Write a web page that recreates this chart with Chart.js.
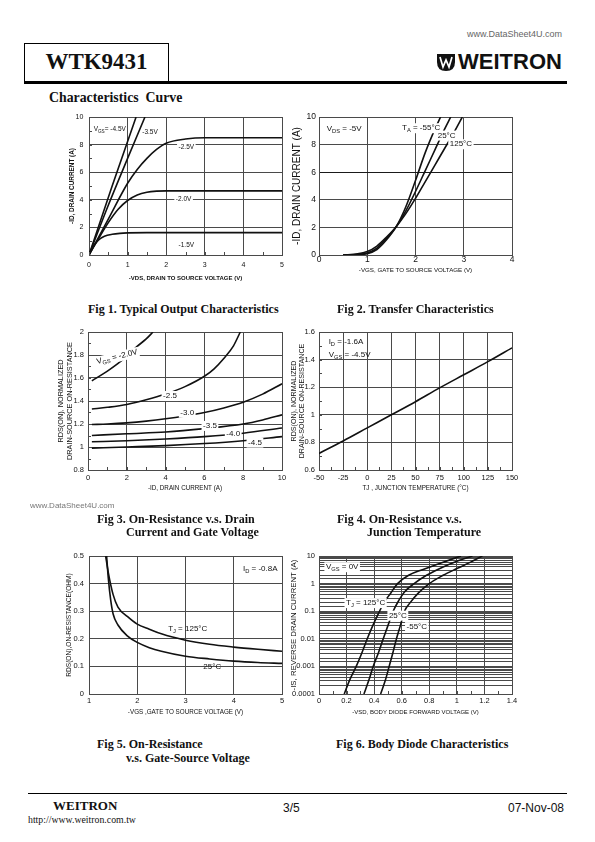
<!DOCTYPE html>
<html>
<head>
<meta charset="utf-8">
<script src="https://cdn.jsdelivr.net/npm/chart.js@4.4.0/dist/chart.umd.min.js"></script>
<style>
  body { margin: 0; background: #fff; }
  #page { position: relative; width: 595px; height: 842px; overflow: hidden; background: #fff; color: #111; }
  .t { position: absolute; white-space: pre; }
  .serif { font-family: 'Liberation Serif', 'Times New Roman', serif; }
  .sans { font-family: 'Liberation Sans', Arial, sans-serif; }
  .cap { font-family: 'Liberation Serif', 'Times New Roman', serif; font-weight: bold; font-size: 12px; line-height: 14px; }
  canvas { position: absolute; }
</style>
</head>
<body>
<div id="page">
  <!-- header -->
  <div class="t sans" style="left:467px;top:29px;font-size:9px;line-height:10px;color:#666;">www.DataSheet4U.com</div>
  <div style="position:absolute;left:24px;top:43px;width:143px;height:38px;border:1px solid #000;border-bottom:none;"></div>
  <div style="position:absolute;left:24px;top:81px;width:543px;height:3px;background:#000;"></div>
  <div class="t serif" style="left:24px;width:145px;top:50px;text-align:center;font-weight:bold;font-size:23px;line-height:23px;">WTK9431</div>
  <svg style="position:absolute;left:436px;top:53px;" width="20" height="19" viewBox="0 0 20 19">
    <path d="M1 1 H19 V9 Q19 18 10 18 Q1 18 1 9 Z" fill="#111"/>
    <path d="M4 4 L7 14 L10 7 L13 14 L16 4" stroke="#fff" stroke-width="1.7" fill="none"/>
  </svg>
  <div class="t sans" style="left:458px;top:50px;font-weight:bold;font-size:22px;line-height:24px;">WEITRON</div>
  <div class="t serif" style="left:49px;top:90px;font-weight:bold;font-size:13.8px;line-height:16px;">Characteristics  Curve</div>

  <canvas id="fig1" width="253" height="180" style="left:39px;top:107px;"></canvas>
  <canvas id="fig2" width="253" height="180" style="left:269px;top:107px;"></canvas>
  <canvas id="fig3" width="254" height="180" style="left:38px;top:322px;"></canvas>
  <canvas id="fig4" width="253" height="180" style="left:269px;top:322px;"></canvas>
  <canvas id="fig5" width="253" height="180" style="left:39px;top:546px;"></canvas>
  <canvas id="fig6" width="253" height="180" style="left:269px;top:546px;"></canvas>

  <div class="t cap" style="left:88px;top:302px;">Fig 1. Typical Output Characteristics</div>
  <div class="t cap" style="left:337px;top:302px;">Fig 2. Transfer Characteristics</div>
  <div class="t sans" style="left:30px;top:501px;font-size:8px;line-height:10px;color:#777;">www.DataSheet4U.com</div>
  <div class="t cap" style="left:97px;top:512px;">Fig 3. On-Resistance v.s. Drain</div>
  <div class="t cap" style="left:126px;top:525px;">Current and Gate Voltage</div>
  <div class="t cap" style="left:337px;top:512px;">Fig 4. On-Resistance v.s.</div>
  <div class="t cap" style="left:367px;top:525px;">Junction Temperature</div>
  <div class="t cap" style="left:97px;top:737px;">Fig 5. On-Resistance</div>
  <div class="t cap" style="left:126px;top:751px;">v.s. Gate-Source Voltage</div>
  <div class="t cap" style="left:336px;top:737px;">Fig 6. Body Diode Characteristics</div>

  <!-- footer -->
  <div style="position:absolute;left:28px;top:793px;width:539px;height:1px;background:#000;"></div>
  <div class="t serif" style="left:53px;top:799px;font-weight:bold;font-size:13px;line-height:14px;">WEITRON</div>
  <div class="t serif" style="left:28px;top:814px;font-size:9.8px;line-height:12px;">http://www.weitron.com.tw</div>
  <div class="t sans" style="left:283px;top:801px;font-size:12px;line-height:14px;">3/5</div>
  <div class="t sans" style="left:508px;top:801px;font-size:12px;line-height:14px;">07-Nov-08</div>
</div>

<script>
const GRID = '#4a4a4a';
const INK = '#111';
const SANS = "'Liberation Sans', Arial, sans-serif";

// Fig 1: -VDS (V) vs -ID (A), one curve per VGS
const out15 = [[0,0],[0.1,0.55],[0.2,0.95],[0.3,1.2],[0.4,1.36],[0.6,1.5],[0.8,1.57],[1,1.6],[1.5,1.62],[2,1.62],[3,1.62],[5,1.62]];
const out20 = [[0,0],[0.25,1.2],[0.5,2.35],[0.75,3.3],[1,3.95],[1.25,4.35],[1.5,4.55],[1.75,4.63],[2,4.65],[3,4.65],[5,4.65]];
const out25 = [[0,0],[0.5,2.6],[1,5.2],[1.25,6.2],[1.5,7.0],[1.75,7.65],[2,8.1],[2.5,8.4],[3,8.5],[5,8.5]];
const out35 = [[0,0],[0.5,3.6],[1,7.0],[1.45,10]];
const out45 = [[0,0],[0.6,5.0],[1.22,10]];
const fig1Notes = [
  {text: 'V_{GS}= -4.5V', x: 0.12, y: 9.1},
  {text: '-3.5V', x: 1.38, y: 8.9},
  {text: '-2.5V', x: 2.32, y: 7.8, bg: true},
  {text: '-2.0V', x: 2.25, y: 4.05, bg: true},
  {text: '-1.5V', x: 2.32, y: 0.7}
];

// Fig 2: -VGS (V) vs -ID (A) at three temperatures
const tr_m55 = [[0.5,0],[0.8,0.02],[1.0,0.1],[1.2,0.4],[1.4,1.1],[1.6,2.05],[1.8,3.5],[2.0,5.4],[2.2,7.4],[2.4,9.1],[2.52,10]];
const tr_25 = [[0.5,0],[0.8,0.04],[1.0,0.15],[1.2,0.5],[1.4,1.2],[1.6,2.05],[1.8,3.2],[2.0,4.6],[2.2,6.1],[2.4,7.6],[2.6,9.1],[2.73,10]];
const tr_125 = [[0.5,0],[0.8,0.08],[1.0,0.25],[1.2,0.65],[1.4,1.3],[1.6,2.05],[1.8,3.0],[2.0,4.1],[2.2,5.3],[2.4,6.5],[2.6,7.7],[2.8,8.9],[2.97,10]];
const fig2Notes = [
  {text: 'V_{DS} = -5V', x: 0.16, y: 9.15},
  {text: 'T_{A} = -55°C', x: 1.72, y: 9.2, bg: true},
  {text: '25°C', x: 2.46, y: 8.67, bg: true},
  {text: '125°C', x: 2.71, y: 8.04, bg: true}
];

// Fig 3: -ID (A) vs normalized RDS(on), one curve per VGS
const ron20 = [[0.2,1.575],[1,1.66],[1.5,1.72],[2,1.79],[2.5,1.87],[3,1.94],[3.35,2.0]];
const ron25 = [[0.2,1.33],[1,1.345],[2,1.37],[3,1.41],[4,1.46],[5,1.525],[6,1.615],[6.5,1.68],[7,1.77],[7.5,1.88],[7.85,2.0]];
const ron30 = [[0.2,1.195],[1,1.2],[2,1.21],[3,1.225],[4,1.245],[5,1.27],[6,1.3],[7,1.34],[8,1.39],[9,1.46],[10,1.55]];
const ron35 = [[0.2,1.1],[2,1.115],[4,1.13],[6,1.16],[8,1.2],[9,1.235],[10,1.28]];
const ron40 = [[0.2,1.045],[2,1.055],[4,1.07],[6,1.09],[8,1.12],[10,1.165]];
const ron45 = [[0.2,0.99],[2,1.0],[4,1.012],[6,1.03],[8,1.055],[10,1.09]];
const fig3Notes = [
  {text: 'V_{GS} = -2.0V', x: 0.45, y: 1.74, angle: -14, bg: true},
  {text: '-2.5', x: 3.87, y: 1.445, bg: true},
  {text: '-3.0', x: 4.76, y: 1.30, bg: true},
  {text: '-3.5', x: 5.93, y: 1.185, bg: true},
  {text: '-4.0', x: 7.13, y: 1.112, bg: true},
  {text: '-4.5', x: 8.25, y: 1.04, bg: true}
];

// Fig 4: junction temperature (°C) vs normalized RDS(on)
const ronTemp = [[-50,0.72],[-25,0.81],[0,0.905],[25,1.0],[50,1.095],[75,1.195],[100,1.29],[125,1.385],[150,1.485]];
const fig4Notes = [
  {text: 'I_{D} = -1.6A', x: -40, y: 1.528},
  {text: 'V_{GS} = -4.5V', x: -40, y: 1.436}
];

// Fig 5: -VGS (V) vs RDS(on) (ohm)
const rg125 = [[1.345,0.5],[1.4,0.44],[1.5,0.36],[1.6,0.315],[1.8,0.28],[2,0.253],[2.25,0.235],[2.5,0.218],[3,0.195],[3.5,0.18],[4,0.17],[4.5,0.162],[5,0.155]];
const rg25 = [[1.365,0.5],[1.4,0.42],[1.45,0.34],[1.5,0.29],[1.6,0.25],[1.8,0.21],[2,0.187],[2.25,0.168],[2.5,0.155],[3,0.137],[3.5,0.127],[4,0.119],[4.5,0.114],[5,0.111]];
const fig5Notes = [
  {text: 'I_{D} = -0.8A', x: 4.19, y: 0.454},
  {text: 'T_{J} = 125°C', x: 2.64, y: 0.237},
  {text: '25°C', x: 3.37, y: 0.099}
];

// Fig 6: -VSD (V) vs -IS (A), log scale
const bd125 = [[0.183,0.0001],[0.22,0.0003],[0.27,0.001],[0.31,0.003],[0.35,0.01],[0.39,0.03],[0.43,0.08],[0.47,0.2],[0.52,0.45],[0.57,1],[0.65,2],[0.75,3.2],[0.88,5.5],[1.03,10]];
const bd25 = [[0.326,0.0001],[0.36,0.0003],[0.393,0.001],[0.43,0.003],[0.466,0.01],[0.5,0.03],[0.538,0.1],[0.58,0.25],[0.62,0.5],[0.69,1],[0.78,2],[0.9,4],[1.0,6.5],[1.113,10]];
const bdm55 = [[0.447,0.0001],[0.48,0.0003],[0.509,0.001],[0.535,0.003],[0.562,0.01],[0.59,0.03],[0.62,0.1],[0.66,0.2],[0.72,0.45],[0.8,1],[0.9,2],[1.0,3.5],[1.1,6],[1.185,10]];
const fig6Notes = [
  {text: 'V_{GS} = 0V', x: 0.05, y: 4, bg: true},
  {text: 'T_{J} = 125°C', x: 0.196, y: 0.2, bg: true},
  {text: '25°C', x: 0.507, y: 0.07, bg: true},
  {text: '-55°C', x: 0.635, y: 0.027, bg: true}
];

// split "V_{GS}" into normal / subscript pieces
function richParts(text) {
  const parts = [];
  const re = /([^_]+)|_\{([^}]*)\}/g;
  let m;
  while ((m = re.exec(text))) {
    if (m[1] !== undefined) parts.push({t: m[1], sub: false});
    else parts.push({t: m[2], sub: true});
  }
  return parts;
}

function drawNote(ctx, note, px, py, size) {
  const main = size + 'px ' + SANS;
  const small = (size * 0.72) + 'px ' + SANS;
  const parts = richParts(note.text);
  let w = 0;
  parts.forEach(p => { ctx.font = p.sub ? small : main; p.w = ctx.measureText(p.t).width; w += p.w; });
  ctx.save();
  ctx.translate(px, py);
  if (note.angle) ctx.rotate(note.angle * Math.PI / 180);
  if (note.bg) {
    ctx.fillStyle = '#fff';
    ctx.fillRect(-1.5, -size * 0.6, w + 3, size * 1.25);
  }
  ctx.fillStyle = INK;
  ctx.textAlign = 'left';
  ctx.textBaseline = 'middle';
  let cx = 0;
  parts.forEach(p => {
    ctx.font = p.sub ? small : main;
    ctx.fillText(p.t, cx, p.sub ? size * 0.32 : 0);
    cx += p.w;
  });
  ctx.restore();
}

// small inward tick marks + text notes
const notesPlugin = {
  id: 'notes',
  afterDatasetsDraw(chart, args, opts) {
    const {ctx, chartArea: a} = chart;
    const xs = chart.scales.x, ys = chart.scales.y;
    ctx.save();
    ctx.strokeStyle = GRID;
    ctx.lineWidth = 1;
    if (opts.minorX) {
      for (let v = xs.min; v <= xs.max + 1e-9; v += opts.minorX) {
        const px = Math.round(xs.getPixelForValue(v)) + 0.5;
        ctx.beginPath(); ctx.moveTo(px, a.bottom); ctx.lineTo(px, a.bottom - 3); ctx.stroke();
      }
    }
    if (opts.minorY) {
      for (let v = ys.min; v <= ys.max + 1e-9; v += opts.minorY) {
        const py = Math.round(ys.getPixelForValue(v)) + 0.5;
        ctx.beginPath(); ctx.moveTo(a.left, py); ctx.lineTo(a.left + 3, py); ctx.stroke();
      }
    }
    (opts.list || []).forEach(n => drawNote(ctx, n, xs.getPixelForValue(n.x), ys.getPixelForValue(n.y), opts.size));
    ctx.restore();
  }
};

const plain = v => String(+Number(v).toFixed(4));

function axis(o) {
  return Object.assign({
    type: 'linear',
    ticks: {
      stepSize: o.step, padding: o.tickPad, color: INK, autoSkip: false, maxRotation: 0,
      font: {family: SANS, size: o.tickSize}, callback: o.fmt || plain
    },
    grid: {color: o.gridColor || GRID, lineWidth: 1, drawTicks: false},
    border: {color: GRID},
    title: {
      display: true, text: o.title, color: INK,
      font: {family: SANS, size: o.titleSize, weight: o.bold ? 'bold' : 'normal', lineHeight: 1.2},
      padding: o.titlePad
    },
    afterFit: o.fit
  }, o.min !== undefined ? {min: o.min, max: o.max} : {});
}

function makeChart(id, cfg) {
  return new Chart(document.getElementById(id), {
    type: 'scatter',
    data: {
      datasets: cfg.series.map(s => ({
        data: s.map(p => ({x: p[0], y: p[1]})),
        showLine: true, borderColor: INK, borderWidth: 1.6, pointRadius: 0,
        cubicInterpolationMode: 'monotone', fill: false
      }))
    },
    options: {
      responsive: false, animation: false, events: [],
      layout: {padding: {left: 0, top: 10, right: 10, bottom: 0}},
      plugins: {
        legend: {display: false}, tooltip: {enabled: false},
        notes: {list: cfg.notes, size: cfg.noteSize, minorX: cfg.minorX, minorY: cfg.minorY}
      },
      scales: {x: cfg.x, y: cfg.y}
    },
    plugins: [notesPlugin]
  });
}

const fitX = s => { s.height = 32; };
const fitY = s => { s.width = 50; };

makeChart('fig1', {
  series: [out15, out20, out25, out35, out45], notes: fig1Notes, noteSize: 6.5, minorX: 0.5, minorY: 1,
  x: axis({min: 0, max: 5, step: 1, tickPad: 5.8, tickSize: 7, title: '-VDS, DRAIN TO SOURCE VOLTAGE (V)', titleSize: 6, bold: true, titlePad: {top: 0, bottom: 5.4}, fit: fitX}),
  y: axis({min: 0, max: 10, step: 2, tickPad: 5.7, tickSize: 7, title: '-ID, DRAIN CURRENT (A)', titleSize: 6.4, bold: true, titlePad: {top: 28.9, bottom: 0}, fit: fitY})
});

makeChart('fig2', {
  series: [tr_m55, tr_25, tr_125], notes: fig2Notes, noteSize: 8,
  x: axis({min: 0, max: 4, step: 1, tickPad: 0, tickSize: 8.5, title: '-VGS, GATE TO SOURCE VOLTAGE (V)', titleSize: 6.2, titlePad: {top: 0, bottom: 13.3}, fit: fitX}),
  y: axis({min: 0, max: 10, step: 2, tickPad: 3, tickSize: 8.5, title: '-ID, DRAIN CURRENT (A)', titleSize: 10, titlePad: {top: 22, bottom: 0}, fit: fitY,
    gridColor: c => (c.tick && c.tick.value === 6 ? '#1a1a1a' : GRID)})
});

makeChart('fig3', {
  series: [ron20, ron25, ron30, ron35, ron40, ron45], notes: fig3Notes, noteSize: 8, minorX: 1, minorY: 0.1,
  x: axis({min: 0, max: 10, step: 2, tickPad: 3.5, tickSize: 7.5, title: '-ID, DRAIN CURRENT (A)', titleSize: 6.3, titlePad: {top: 0, bottom: 10.2}, fit: fitX}),
  y: axis({min: 0.8, max: 2, step: 0.2, tickPad: 4, tickSize: 7.5, title: ['RDS(ON), NORMALIZED', 'DRAIN-SOURCE ON-RESISTANCE'], titleSize: 7.3, titlePad: {top: 18.6, bottom: 0}, fit: fitY})
});

makeChart('fig4', {
  series: [ronTemp], notes: fig4Notes, noteSize: 8, minorX: 12.5, minorY: 0.1,
  x: axis({min: -50, max: 150, step: 25, tickPad: 3.5, tickSize: 7.5, title: 'TJ , JUNCTION TEMPERATURE (°C)', titleSize: 6.3, titlePad: {top: 0, bottom: 10.2}, fit: fitX}),
  y: axis({min: 0.6, max: 1.6, step: 0.2, tickPad: 4, tickSize: 7.5, title: ['RDS(ON), NORMALIZED', 'DRAIN-SOURCE ON-RESISTANCE'], titleSize: 7.1, titlePad: {top: 20.7, bottom: 0}, fit: fitY})
});

makeChart('fig5', {
  series: [rg125, rg25], notes: fig5Notes, noteSize: 8,
  x: axis({min: 1, max: 5, step: 1, tickPad: 2.5, tickSize: 7.5, title: '-VGS ,GATE TO SOURCE VOLTAGE (V)', titleSize: 6.3, titlePad: {top: 0, bottom: 10.2}, fit: fitX}),
  y: axis({min: 0, max: 0.5, step: 0.1, tickPad: 5, tickSize: 7.5, title: 'RDS(ON),ON-RESISTANCE(OHM)', titleSize: 6.6, titlePad: {top: 26, bottom: 0}, fit: fitY})
});

const logFmt = v => {
  const e = Math.log10(v);
  if (Math.abs(e - Math.round(e)) > 1e-6) return '';
  return Math.round(e) >= 0 ? String(Math.round(v)) : v.toFixed(-Math.round(e));
};
const fig6y = axis({tickPad: 4, tickSize: 7.5, title: '-IS, REVERSE DRAIN CURRENT (A)', titleSize: 7.8, titlePad: {top: 20.3, bottom: 0}, fit: fitY, fmt: logFmt});
fig6y.type = 'logarithmic';
fig6y.min = 0.0001;
fig6y.max = 10;
delete fig6y.ticks.stepSize;

makeChart('fig6', {
  series: [bd125, bd25, bdm55], notes: fig6Notes, noteSize: 8, minorX: 0.1,
  x: axis({min: 0, max: 1.4, step: 0.2, tickPad: 2.5, tickSize: 7.5, title: '-VSD, BODY DIODE FORWARD VOLTAGE (V)', titleSize: 6, titlePad: {top: 0, bottom: 10.5}, fit: fitX}),
  y: fig6y
});
</script>
</body>
</html>
